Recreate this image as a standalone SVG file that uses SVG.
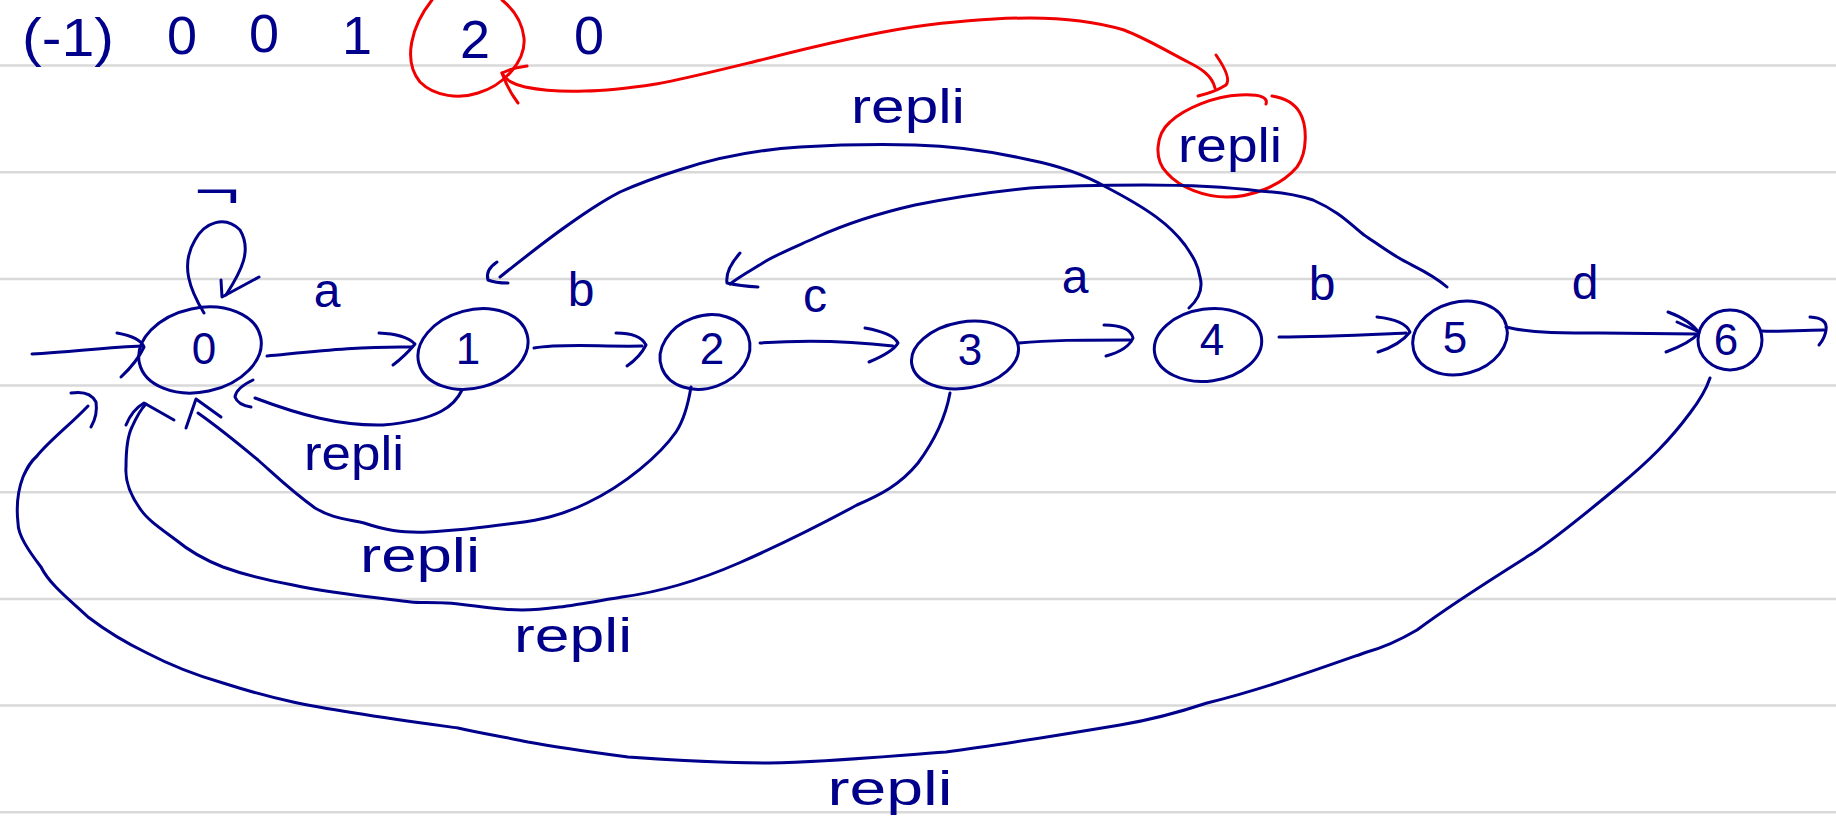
<svg xmlns="http://www.w3.org/2000/svg" width="1836" height="837" viewBox="0 0 1836 837">
<style>
.rule{stroke:#d9d9d9;stroke-width:2.5}
.ink{fill:none;stroke:#00008b;stroke-width:3;stroke-linecap:round;stroke-linejoin:round}
.red{fill:none;stroke:#f00000;stroke-width:3;stroke-linecap:round;stroke-linejoin:round}
.t{font-family:"Liberation Sans",Arial,sans-serif;fill:#00008b;text-anchor:middle}
.num{font-size:44px}
.lab{font-size:48px}
.rep{font-size:48px}
.top{font-size:54px}
</style>
<rect width="1836" height="837" fill="#ffffff"/>
<g id="rules">
<line class="rule" x1="0" y1="65.6" x2="1836" y2="65.6"/>
<line class="rule" x1="0" y1="172.3" x2="1836" y2="172.3"/>
<line class="rule" x1="0" y1="279" x2="1836" y2="279"/>
<line class="rule" x1="0" y1="385.6" x2="1836" y2="385.6"/>
<line class="rule" x1="0" y1="492.3" x2="1836" y2="492.3"/>
<line class="rule" x1="0" y1="599" x2="1836" y2="599"/>
<line class="rule" x1="0" y1="705.6" x2="1836" y2="705.6"/>
<line class="rule" x1="0" y1="812.3" x2="1836" y2="812.3"/>
</g>
<g id="sequence">
<text class="t top" x="68" y="56" textLength="92" lengthAdjust="spacingAndGlyphs">(-1)</text>
<text class="t top" x="182" y="54">0</text>
<text class="t top" x="264" y="52">0</text>
<text class="t top" x="357" y="54">1</text>
<text class="t top" x="475" y="58">2</text>
<text class="t top" x="589" y="54">0</text>
<path class="red" d="M 432 0 C 412 25, 402 60, 420 82 C 435 97, 460 99, 478 93 C 505 85, 526 60, 524 38 C 522 20, 512 8, 502 0"/>
</g>
<g id="node0"><ellipse class="ink" cx="200" cy="350" rx="62" ry="42" transform="rotate(-12 200 350)"/><text class="t num" x="204" y="364">0</text></g>
<g id="node1"><ellipse class="ink" cx="473" cy="349" rx="56" ry="39" transform="rotate(-15 473 349)"/><text class="t num" x="468" y="364">1</text></g>
<g id="node2"><ellipse class="ink" cx="705" cy="352" rx="46" ry="36" transform="rotate(-20 705 352)"/><text class="t num" x="712" y="364">2</text></g>
<g id="node3"><ellipse class="ink" cx="965" cy="355" rx="54" ry="33" transform="rotate(-10 965 355)"/><text class="t num" x="970" y="365">3</text></g>
<g id="node4"><ellipse class="ink" cx="1208" cy="345" rx="54" ry="36" transform="rotate(-8 1208 345)"/><text class="t num" x="1212" y="355">4</text></g>
<g id="node5"><ellipse class="ink" cx="1460" cy="338" rx="48" ry="36" transform="rotate(-15 1460 338)"/><text class="t num" x="1455" y="353">5</text></g>
<g id="node6"><ellipse class="ink" cx="1730" cy="340" rx="32" ry="30"/><text class="t num" x="1726" y="355">6</text></g>
<g id="repli-note">
<path class="red" d="M 1266 104 C 1268 98, 1262 94, 1240 95 C 1215 96, 1185 108, 1170 122 C 1155 135, 1154 160, 1167 173 C 1180 188, 1205 197, 1227 197 C 1250 197, 1280 187, 1297 167 C 1308 152, 1307 125, 1300 113 C 1295 104, 1285 98, 1272 96"/>
<text class="t rep" x="1230" y="162" textLength="104" lengthAdjust="spacingAndGlyphs">repli</text>
</g>
<g id="connectors">
<path class="red" d="M 1215 88 C 1212 75, 1200 68, 1188 62 C 1165 50, 1145 38, 1124 30 C 1090 20, 1060 18, 1030 18 C 990 18, 950 22, 913 27 C 860 35, 800 50, 761 60 C 720 70, 680 80, 656 84 C 630 88, 600 91, 585 91 C 560 92, 540 90, 525 87 C 515 85, 505 80, 502 73"/>
<path class="red" d="M 527 66 Q 512 68 502 73 Q 508 90 518 103"/>
<path class="red" d="M 1216 55 Q 1232 78 1226 85 Q 1215 92 1198 96"/>
<path class="ink" d="M 32 354 C 70 352, 110 347, 142 346"/>
<path class="ink" d="M 117 333 Q 140 337 144 347 Q 137 362 121 377"/>
<path class="ink" d="M 204 313 C 190 290, 180 265, 195 240 C 205 222, 225 215, 240 230 C 252 250, 242 270, 226 295"/>
<path class="ink" d="M 221 280 L 222 297 L 259 277"/>
<text class="t lab" x="217" y="207" textLength="46" lengthAdjust="spacingAndGlyphs">¬</text>
<path class="ink" d="M 267 356 C 310 352, 360 346, 412 347"/>
<path class="ink" d="M 379 333 Q 405 334 415 344 Q 405 356 393 365"/>
<text class="t lab" x="327" y="307">a</text>
<path class="ink" d="M 534 348 C 565 343, 600 347, 642 346"/>
<path class="ink" d="M 616 333 Q 640 333 646 345 Q 640 357 627 366"/>
<text class="t lab" x="581" y="306">b</text>
<path class="ink" d="M 760 343 C 800 340, 850 341, 893 346"/>
<path class="ink" d="M 865 328 Q 893 333 898 343 Q 893 352 869 362"/>
<text class="t lab" x="815" y="312">c</text>
<path class="ink" d="M 1019 343 C 1050 340, 1080 340, 1130 340"/>
<path class="ink" d="M 1104 325 Q 1130 325 1133 338 Q 1128 350 1106 356"/>
<text class="t lab" x="1075" y="293">a</text>
<path class="ink" d="M 1279 337 C 1320 337, 1360 335, 1406 333"/>
<path class="ink" d="M 1377 317 Q 1405 320 1410 332 Q 1400 345 1378 352"/>
<text class="t lab" x="1322" y="300">b</text>
<path class="ink" d="M 1506 327 C 1530 333, 1560 333, 1600 333 L 1697 334"/>
<path class="ink" d="M 1668 312 Q 1690 320 1699 333 Q 1690 343 1666 352"/>
<path class="ink" d="M 1677 322 L 1697 331"/>
<text class="t lab" x="1585" y="299">d</text>
<path class="ink" d="M 1762 331 C 1780 332, 1800 330, 1824 330"/>
<path class="ink" d="M 1810 317 Q 1828 318 1826 330 Q 1825 338 1819 345"/>
<path class="ink" d="M 462 390 C 455 405, 440 420, 383 425 C 340 426, 300 415, 255 398"/>
<path class="ink" d="M 253 380 Q 236 388 235 397 Q 238 405 251 407"/>
<text class="t rep" x="354" y="470" textLength="100" lengthAdjust="spacingAndGlyphs">repli</text>
<path class="ink" d="M 691 387 C 688 405, 684 420, 676 432 C 660 455, 625 485, 587 503 C 560 516, 540 520, 516 523 C 480 528, 450 531, 428 532 C 400 533, 385 530, 364 523 C 340 518, 330 517, 315 508 C 290 490, 275 475, 258 460 C 240 445, 215 425, 198 413"/>
<path class="ink" d="M 186 428 L 196 399 L 221 417"/>
<text class="t rep" x="420" y="572" textLength="120" lengthAdjust="spacingAndGlyphs">repli</text>
<path class="ink" d="M 950 393 C 946 415, 935 440, 918 463 C 900 485, 880 495, 857 505 C 820 525, 780 545, 739 563 C 700 580, 660 592, 622 597 C 585 603, 550 610, 522 610 C 490 610, 470 604, 446 603 C 430 602, 420 603, 411 602 C 370 597, 330 593, 293 585 C 265 580, 245 575, 223 567 C 200 558, 188 550, 176 540 C 160 528, 148 520, 141 510 C 130 495, 125 480, 126 467 C 126 450, 128 435, 132 427 C 136 418, 140 410, 146 404"/>
<path class="ink" d="M 126 425 Q 132 410 144 403 L 174 420"/>
<text class="t rep" x="573" y="652" textLength="118" lengthAdjust="spacingAndGlyphs">repli</text>
<path class="ink" d="M 1710 378 C 1706 390, 1700 400, 1690 413 C 1670 440, 1650 460, 1620 485 C 1590 510, 1560 535, 1533 553 C 1490 580, 1450 605, 1417 630 C 1400 640, 1385 647, 1367 652 C 1310 672, 1260 690, 1207 703 C 1180 712, 1150 720, 1120 725 C 1060 735, 1000 745, 946 752 C 890 756, 830 762, 769 763 C 720 763, 670 760, 628 757 C 590 752, 560 748, 528 742 C 505 737, 480 733, 458 728 C 400 720, 340 712, 293 702 C 265 696, 245 690, 223 683 C 195 675, 170 665, 147 653 C 120 640, 105 630, 88 617 C 70 600, 50 585, 41 567 C 28 550, 18 535, 18 523 C 16 505, 18 490, 23 477 C 27 468, 30 462, 37 456 C 50 440, 70 425, 88 406"/>
<path class="ink" d="M 71 393 Q 90 390 96 402 Q 98 415 91 427"/>
<text class="t rep" x="890" y="805" textLength="125" lengthAdjust="spacingAndGlyphs">repli</text>
<path class="ink" d="M 1189 308 C 1200 298, 1203 288, 1200 277 C 1198 265, 1194 258, 1185 245 C 1170 225, 1150 210, 1106 187 C 1085 175, 1060 166, 1030 160 C 995 152, 955 146, 915 145 C 875 144, 835 145, 800 147 C 755 150, 715 158, 679 170 C 660 176, 640 183, 620 192 C 585 210, 540 245, 500 277"/>
<path class="ink" d="M 497 262 Q 485 270 488 280 Q 495 283 508 283"/>
<text class="t rep" x="908" y="123" textLength="114" lengthAdjust="spacingAndGlyphs">repli</text>
<path class="ink" d="M 1447 287 C 1430 272, 1410 265, 1399 258 C 1385 250, 1372 240, 1364 235 C 1350 224, 1340 212, 1313 200 C 1295 194, 1280 192, 1259 191 C 1220 186, 1180 185, 1144 185 C 1100 185, 1060 186, 1030 188 C 990 192, 950 198, 915 205 C 880 213, 850 222, 817 237 C 795 247, 780 253, 766 261 C 755 268, 740 276, 730 284"/>
<path class="ink" d="M 740 253 Q 725 270 727 283 Q 740 286 758 287"/>
</g>
</svg>
